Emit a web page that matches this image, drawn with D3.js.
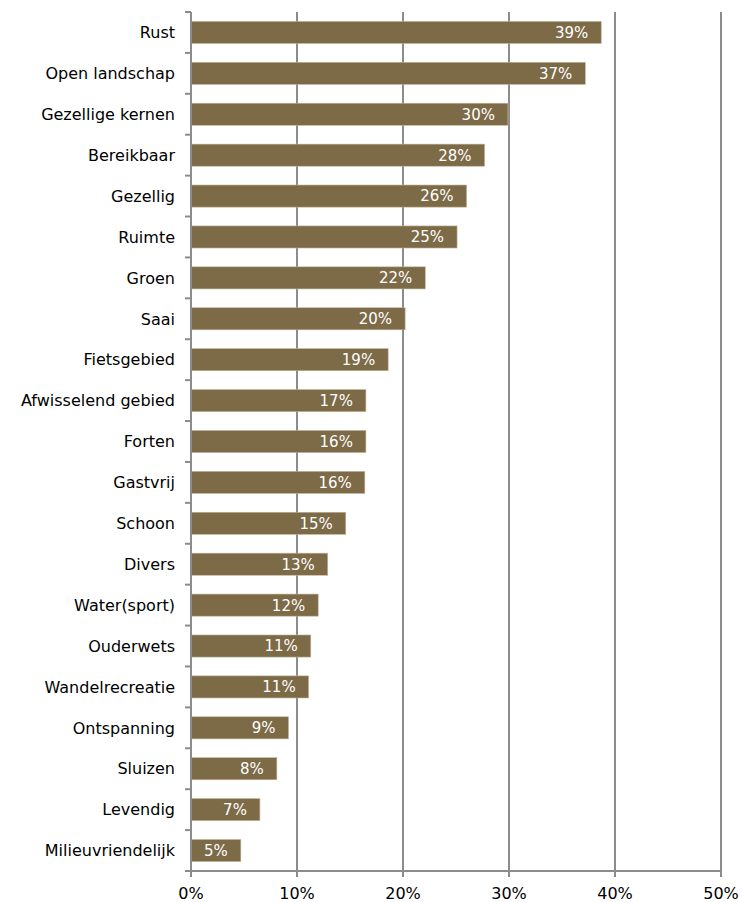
<!DOCTYPE html>
<html><head><meta charset="utf-8">
<script src="https://cdn.jsdelivr.net/npm/d3@7"></script>
<style>body{margin:0;background:#fff}svg{display:block}</style>
</head><body><svg id="c" width="742" height="902"></svg>
<script>
const categories = ["Rust","Open landschap","Gezellige kernen","Bereikbaar","Gezellig","Ruimte","Groen","Saai","Fietsgebied","Afwisselend gebied","Forten","Gastvrij","Schoon","Divers","Water(sport)","Ouderwets","Wandelrecreatie","Ontspanning","Sluizen","Levendig","Milieuvriendelijk"];
const values = [38.7,37.2,29.9,27.7,26.0,25.1,22.1,20.2,18.6,16.5,16.5,16.4,14.6,12.9,12.0,11.3,11.1,9.2,8.1,6.5,4.7];
const labels = ["39%","37%","30%","28%","26%","25%","22%","20%","19%","17%","16%","16%","15%","13%","12%","11%","11%","9%","8%","7%","5%"];
const xTicks = [0,10,20,30,40,50];

const svg = d3.select("#c");
const m = {l:191, r:721, t:12, b:871};
const x = d3.scaleLinear().domain([0,50]).range([m.l,m.r]);
const y = d3.scaleBand().domain(categories).range([m.t,m.b]).paddingInner(0.46).paddingOuter(0.23);
const font = "Verdana, 'DejaVu Sans', sans-serif";
const grey = "#8c8c8c";

// gridlines
svg.append("g").selectAll("line").data(xTicks.slice(1)).join("line")
  .attr("x1",d=>x(d)).attr("x2",d=>x(d)).attr("y1",m.t).attr("y2",m.b+5)
  .attr("stroke",grey).attr("stroke-width",2);

// bars
svg.append("g").selectAll("rect").data(categories).join("rect")
  .attr("x",x(0)).attr("y",d=>y(d))
  .attr("width",(d,i)=>x(values[i])-x(0)).attr("height",y.bandwidth())
  .attr("fill","#7d6a47").attr("stroke","#c2b497").attr("stroke-width",0.6);

// value labels
svg.append("g").selectAll("text").data(categories).join("text")
  .attr("x",(d,i)=>x(values[i])-13).attr("y",d=>y(d)+y.bandwidth()/2)
  .attr("dy","0.36em").attr("text-anchor","end")
  .attr("fill","#ffffff").attr("font-family",font).attr("font-size",15)
  .text((d,i)=>labels[i]);

// left axis
const bounds = d3.range(categories.length+1).map(i=>m.t + i*(m.b-m.t)/categories.length);
svg.append("line").attr("x1",m.l).attr("x2",m.l).attr("y1",m.t).attr("y2",m.b).attr("stroke",grey).attr("stroke-width",2);
svg.append("g").selectAll("line").data(bounds).join("line")
  .attr("x1",m.l-6).attr("x2",m.l).attr("y1",d=>d).attr("y2",d=>d)
  .attr("stroke",grey).attr("stroke-width",2);
svg.append("g").selectAll("text").data(categories).join("text")
  .attr("x",m.l-16).attr("y",d=>y(d)+y.bandwidth()/2).attr("dy","0.36em")
  .attr("text-anchor","end").attr("fill","#000").attr("font-family",font).attr("font-size",16)
  .text(d=>d);

// bottom axis
svg.append("line").attr("x1",m.l-1).attr("x2",m.r+1).attr("y1",m.b).attr("y2",m.b).attr("stroke",grey).attr("stroke-width",2);
svg.append("g").selectAll("line").data(xTicks).join("line")
  .attr("x1",d=>x(d)).attr("x2",d=>x(d)).attr("y1",m.b).attr("y2",m.b+6)
  .attr("stroke",grey).attr("stroke-width",2);
svg.append("g").selectAll("text").data(xTicks).join("text")
  .attr("x",d=>x(d)).attr("y",m.b+22).attr("dy","0.36em").attr("text-anchor","middle")
  .attr("fill","#000").attr("font-family",font).attr("font-size",16)
  .text(d=>d+"%");
</script></body></html>
